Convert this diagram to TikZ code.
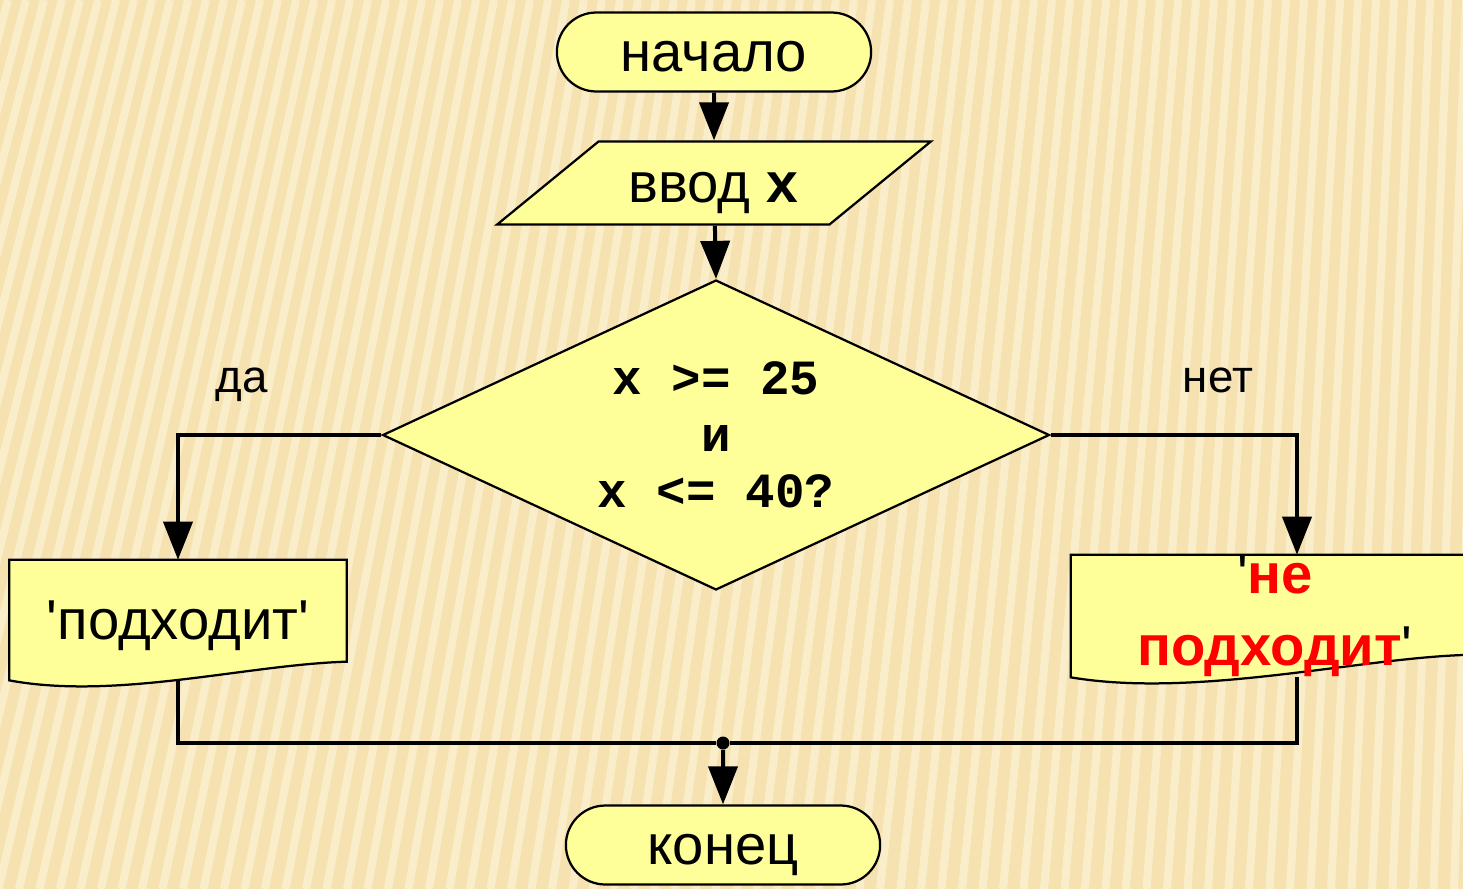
\documentclass[tikz,border=0pt]{standalone}
\usepackage{fontspec}
\setmainfont{Liberation Sans}
\setmonofont{Liberation Mono}
\usetikzlibrary{shapes.geometric}
\usetikzlibrary{shapes.misc}
\usetikzlibrary{arrows.meta}
\definecolor{bgbeige}{HTML}{F6E2B0}
\definecolor{stripebeige}{HTML}{FCF1D2}
\definecolor{boxyellow}{HTML}{FFFF99}
\definecolor{nored}{HTML}{FF0000}
\pgfdeclarelayer{background}
\pgfsetlayers{background,main}
\tikzstyle{line}=[black,line width=0.08cm]
\tikzstyle{arr}=[line,-{Triangle[length=0.76cm,width=0.58cm]}]
\tikzstyle{stripe}=[stripebeige,line width=0.16cm,opacity=0.75]
\tikzstyle{shapeborder}=[draw=black,line width=0.045cm,fill=boxyellow]
\tikzstyle{strut}=[text height=29pt,text depth=7pt]
\tikzstyle{terminal}=[rounded rectangle,shapeborder,strut,minimum width=6.52cm,minimum height=1.58cm,font=\bigtext]
\tikzstyle{iobox}=[trapezium,trapezium left angle=43,trapezium right angle=137,trapezium stretches=true,shapeborder,strut,minimum width=8.7cm,minimum height=1.66cm,font=\bigtext]
\tikzstyle{decision}=[diamond,shapeborder,aspect=2.15,inner sep=0pt,minimum width=13.34cm,minimum height=6.2cm,align=center,font=\condtext]
\tikzstyle{docbox}=[rectangle,inner sep=0pt,font=\bigtext]
\tikzstyle{branch}=[font=\labeltext]
\newcommand{\bigtext}{\fontsize{32}{41}\selectfont}
\newcommand{\labeltext}{\fontsize{26}{30}\selectfont}
\newcommand{\condtext}{\fontsize{28}{32}\selectfont\ttfamily\bfseries}
\newcommand{\sq}{\textquotesingle}
\begin{document}
\begin{tikzpicture}[x=0.02cm,y=-0.02cm]
\useasboundingbox (0,0) rectangle (1463,889);
% background with stripes
\begin{pgfonlayer}{background}
	\begin{scope}
		\clip (0,0) rectangle (1463,889);
		\fill[bgbeige] (0,0) rectangle (1463,889);
		\foreach \i in {0,...,100} {
			\draw[stripe] (\i*18-100,0) -- (\i*18-350+\i*2.5,889);
		}
	\end{scope}
\end{pgfonlayer}
% blocks
\node[terminal] (start) at (714,52) {начало};
\node[iobox] (input) at (714,183) {ввод {\ttfamily\bfseries x}};
\node[decision] (cond) at (716,435) {x >= 25\\и\\x <= 40?};
\node[docbox,minimum width=6.74cm,minimum height=2.4cm,strut] (ok) at (178,620) {\sq подходит\sq};
\node[docbox,minimum width=8.16cm,minimum height=2.4cm,align=center] (nok) at (1275,616)
	{\sq{\color{nored}\bfseries не}\\{\color{nored}\bfseries подходит}\sq};
\node[circle,fill=black,inner sep=0pt,minimum size=0.26cm] (join) at (723,743) {};
\node[terminal] (stop) at (723,845) {конец};
% branch labels
\node[branch] (yes) at (242,385) {да};
\node[branch] (no) at (1218,380) {нет};
% connectors
\draw[arr] (start) -- (input);
\draw[arr] (input) -- (cond.north);
\draw[arr] (cond.west) -| (ok.north);
\draw[arr] (cond.east) -| ([xshift=0.44cm]nok.north);
\draw[arr] (join) -- (stop);
% document shapes and the lines under them
\begin{pgfonlayer}{background}
	\draw[line] (ok.south) |- (join) -| ([xshift=0.44cm]nok.south);
	\draw[shapeborder] (ok.north west) -- (ok.north east) -- ++(0,102)
		.. controls +(-100,3) and +(107,20) .. (ok.south west) -- cycle;
	\draw[shapeborder] (nok.north west) -- (nok.north east) -- ++(0,100)
		.. controls +(-108,0) and +(130,22) .. (nok.south west) -- cycle;
\end{pgfonlayer}
\end{tikzpicture}
\end{document}
